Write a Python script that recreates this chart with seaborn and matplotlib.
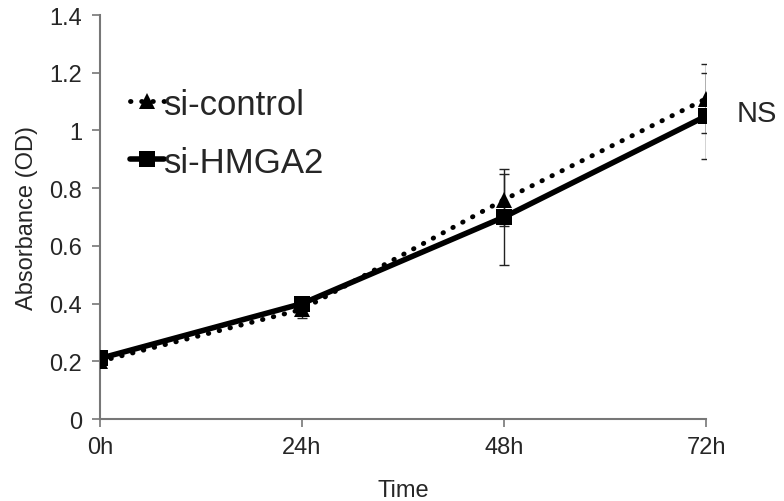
import numpy as np
import pandas as pd
import seaborn as sns
import matplotlib.pyplot as plt

times = ["0h", "24h", "48h", "72h"]
control = [0.20, 0.38, 0.76, 1.11]
control_err = [0.02, 0.03, 0.09, 0.12]
hmga2 = [0.21, 0.40, 0.70, 1.05]
hmga2_err = [0.015, 0.015, 0.165, 0.15]

sns.set_style("white")
plt.rcParams["font.family"] = ["Liberation Sans", "DejaVu Sans"]

df = pd.DataFrame({
    "x": list(range(len(times))) * 2,
    "y": control + hmga2,
    "group": ["si-control"] * len(times) + ["si-HMGA2"] * len(times),
})

fig = plt.figure(figsize=(7.84, 5.02), dpi=100)
ax = fig.add_axes([0.1276, 0.1633, 0.7730, 0.8047])

# error bars first so the lines sit on top
ax.errorbar(range(len(times)), control, yerr=control_err, fmt="none",
            ecolor="#222222", elinewidth=1, capsize=3.5, capthick=1, zorder=1)
ax.errorbar(range(len(times)), hmga2, yerr=hmga2_err, fmt="none",
            ecolor="#222222", elinewidth=1, capsize=3.5, capthick=1, zorder=1)

sns.lineplot(
    data=df[df["group"] == "si-control"], x="x", y="y", ax=ax,
    color="black", linewidth=3.5, linestyle=(0, (0.1, 2.2)),
    dash_capstyle="round", marker="^", markersize=11, markeredgewidth=0,
    label="si-control", zorder=3,
)
sns.lineplot(
    data=df[df["group"] == "si-HMGA2"], x="x", y="y", ax=ax,
    color="black", linewidth=4, marker="s", markersize=11,
    markeredgewidth=0, label="si-HMGA2", zorder=4,
)

ax.set_xlim(0, 3)
ax.set_ylim(0, 1.4)
ax.set_xticks(range(len(times)))
ax.set_xticklabels(times)
ax.set_yticks(np.arange(0, 1.41, 0.2))
ax.set_yticklabels(["0", "0.2", "0.4", "0.6", "0.8", "1", "1.2", "1.4"])
ax.tick_params(axis="both", which="both", direction="out", length=6,
               width=1.2, color="#777777", labelsize=17, pad=7, left=True, bottom=True)
ax.tick_params(axis="x", pad=6)
for s in ["top", "right"]:
    ax.spines[s].set_visible(False)
for s in ["left", "bottom"]:
    ax.spines[s].set_color("#777777")
    ax.spines[s].set_linewidth(1.5)
ax.set_xlabel("Time", fontsize=17, labelpad=15)
ax.set_ylabel("Absorbance (OD)", fontsize=17, labelpad=8)

ax.text(3.15, 1.06, "NS", fontsize=21, va="center", ha="left", clip_on=False)

leg = ax.legend(loc="upper left", bbox_to_anchor=(0.026, 0.855), frameon=False,
                fontsize=25, handlelength=1.0, handletextpad=0.0,
                labelspacing=0.72, borderaxespad=0)

fig.savefig("out.png", dpi=100)
